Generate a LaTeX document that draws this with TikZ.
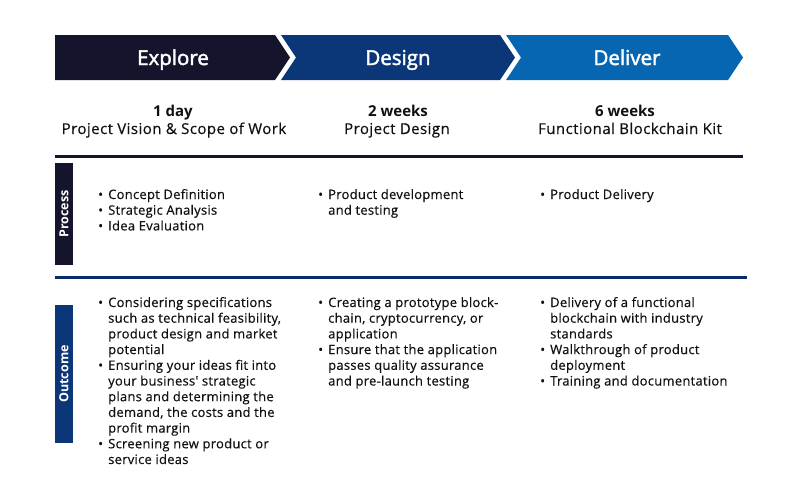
\documentclass[tikz,border=0pt]{standalone}
\usepackage{fontspec}
\setmainfont{Open Sans}
\newfontfamily\semib[FakeBold=2]{Open Sans}
\newfontfamily\spaced[LetterSpace=3,FakeBold=0.4]{Open Sans}
\newfontfamily\bspaced[LetterSpace=2,FakeBold=0.4]{Open Sans}
\definecolor{cnavy}{HTML}{14142C}
\definecolor{cdblue}{HTML}{0B3678}
\definecolor{cblue}{HTML}{0766B1}
\definecolor{cline}{HTML}{0B2A6B}
\definecolor{ctext}{HTML}{111111}
\newcommand\bitem[1]{\hangindent=10pt\hangafter=1\noindent\makebox[10pt][l]{\raisebox{0pt}{\fontsize{13}{13}\selectfont •}}#1\par}
\newcommand\bcol[1]{\begin{minipage}[t]{220pt}\raggedright\bspaced\fontsize{13}{15.7}\selectfont #1\end{minipage}}
\begin{document}
\begin{tikzpicture}[x=1pt,y=-1pt,
  title/.style={anchor=base,text=white,font=\semib\fontsize{20.5}{24}\selectfont,inner sep=0},
  dur/.style={anchor=base,text=ctext,font=\bfseries\fontsize{15}{17}\selectfont,inner sep=0},
  sub/.style={anchor=base,text=ctext,font=\spaced\fontsize{15}{17}\selectfont,inner sep=0},
  side/.style={rotate=90,text=white,font=\bfseries\fontsize{12.5}{14}\selectfont,minimum height=18pt,inner sep=0},
  bullets/.style={anchor=base west,inner sep=0,text=ctext}]
\useasboundingbox (0,0) rectangle (800,491);
\fill[white] (0,0) rectangle (800,491);
% chevrons
\fill[cnavy] (55,35) -- (275,35) -- (290,57.5) -- (275,80) -- (55,80) -- cycle;
\fill[cdblue] (281,35) -- (500,35) -- (515,57.5) -- (500,80) -- (281,80) -- (296,57.5) -- cycle;
\fill[cblue] (506,35) -- (728,35) -- (743,57.5) -- (728,80) -- (506,80) -- (521,57.5) -- cycle;
\node[title] (t1) at (173,65) {Explore};
\node[title] (t2) at (398,65) {Design};
\node[title] (t3) at (627,65) {Deliver};
% durations
\node[dur] (d1) at (173,116) {1 day};
\node[sub] (s1) at (174,134) {Project Vision \& Scope of Work};
\node[dur] (d2) at (398,116) {2 weeks};
\node[sub] (s2) at (397,134) {Project Design};
\node[dur] (d3) at (625,116) {6 weeks};
\node[sub] (s3) at (630,134) {Functional Blockchain Kit};
% separators
\draw[line width=3pt,cnavy] (55,156) -- (743,156);
\draw[line width=3pt,cline] (55,277) -- (747,277);
% side labels
\node[side,fill=cnavy,minimum width=102pt] (proc) at (64,214) {Process};
\node[side,fill=cdblue,minimum width=138pt] (outc) at (64,374) {Outcome};
% process bullets
\node[bullets] (p1) at (98,199) {\bcol{\bitem{Concept Definition}\bitem{Strategic Analysis}\bitem{Idea Evaluation}}};
\node[bullets] (p2) at (318,199) {\bcol{\bitem{Product development\newline and testing}}};
\node[bullets] (p3) at (540,199) {\bcol{\bitem{Product Delivery}}};
% outcome bullets
\node[bullets] (o1) at (98,307) {\bcol{\bitem{Considering specifications\newline such as technical feasibility,\newline product design and market\newline potential}\bitem{Ensuring your ideas fit into\newline your business' strategic\newline plans and determining the\newline demand, the costs and the\newline profit margin}\bitem{Screening new product or\newline service ideas}}};
\node[bullets] (o2) at (318,307) {\bcol{\bitem{Creating a prototype block-\newline chain, cryptocurrency, or\newline application}\bitem{Ensure that the application\newline passes quality assurance\newline and pre-launch testing}}};
\node[bullets] (o3) at (540,307) {\bcol{\bitem{Delivery of a functional\newline blockchain with industry\newline standards}\bitem{Walkthrough of product\newline deployment}\bitem{Training and documentation}}};
\end{tikzpicture}
\end{document}
